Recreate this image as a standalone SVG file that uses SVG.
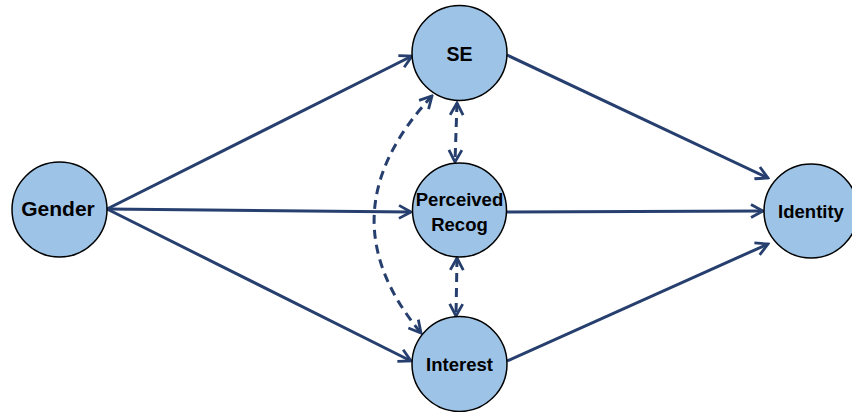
<svg xmlns="http://www.w3.org/2000/svg" width="852" height="412" viewBox="0 0 852 412">
<defs>
<style>
.node{fill:#9dc3e6;stroke:#000;stroke-width:1.5}
.lbl{font-family:"Liberation Sans",Arial,sans-serif;font-weight:bold;font-size:18.5px;fill:#000;text-anchor:middle}
.edge{fill:none;stroke:#263f6e;stroke-width:3}
.dash{stroke-dasharray:9 6}
</style>
<marker id="ah" viewBox="0 0 16 16" refX="14" refY="8" markerWidth="16" markerHeight="16" markerUnits="userSpaceOnUse" orient="auto-start-reverse">
<path d="M2,1.5 L14,8 L2,14.5" fill="none" stroke="#263f6e" stroke-width="2.8" stroke-linejoin="miter"/>
</marker>
</defs>
<rect width="852" height="412" fill="#fff"/>
<g id="connectors">
<line class="edge" x1="107" y1="209" x2="412" y2="56" marker-end="url(#ah)"/>
<line class="edge" x1="107" y1="209" x2="411" y2="212" marker-end="url(#ah)"/>
<line class="edge" x1="107" y1="209" x2="411" y2="361" marker-end="url(#ah)"/>
<line class="edge" x1="507" y1="55" x2="768" y2="178" marker-end="url(#ah)"/>
<line class="edge" x1="507" y1="212" x2="763" y2="211" marker-end="url(#ah)"/>
<line class="edge" x1="507" y1="361" x2="768" y2="244" marker-end="url(#ah)"/>
<line class="edge dash" x1="457" y1="103" x2="455" y2="162" marker-start="url(#ah)" marker-end="url(#ah)"/>
<line class="edge dash" x1="457" y1="258" x2="456" y2="316" marker-start="url(#ah)" marker-end="url(#ah)"/>
<path class="edge dash" d="M432,96 Q322,214 421,333" marker-start="url(#ah)" marker-end="url(#ah)"/>
</g>
<g id="gender"><circle class="node" cx="59.5" cy="209.5" r="47.5"/><text class="lbl" x="58" y="216" style="font-size:21px">Gender</text></g>
<g id="se"><circle class="node" cx="459.5" cy="53" r="47.5"/><text class="lbl" x="459.5" y="60.5" style="font-size:19.5px">SE</text></g>
<g id="perceived"><circle class="node" cx="459.5" cy="210" r="47"/><text class="lbl" x="459.5" y="205.5">Perceived</text><text class="lbl" x="459.5" y="231">Recog</text></g>
<g id="interest"><circle class="node" cx="459.5" cy="364" r="47.5"/><text class="lbl" x="459.5" y="370.5">Interest</text></g>
<g id="identity"><circle class="node" cx="811" cy="211" r="47"/><text class="lbl" x="811" y="218">Identity</text></g>
</svg>
